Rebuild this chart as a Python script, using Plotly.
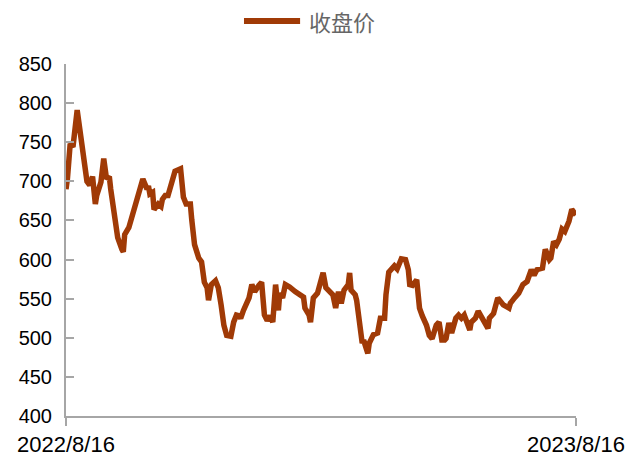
import plotly.graph_objects as go

dates = [
    "2022-08-16", "2022-08-17", "2022-08-19", "2022-08-21", "2022-08-24", "2022-08-26",
    "2022-08-28", "2022-08-29", "2022-08-31", "2022-09-02", "2022-09-04", "2022-09-06",
    "2022-09-07", "2022-09-10", "2022-09-12", "2022-09-14", "2022-09-16", "2022-09-17",
    "2022-09-20", "2022-09-22", "2022-09-25", "2022-09-26", "2022-09-27", "2022-09-30",
    "2022-10-10", "2022-10-13", "2022-10-14", "2022-10-15", "2022-10-17", "2022-10-18",
    "2022-10-21", "2022-10-23", "2022-10-24", "2022-10-26", "2022-10-28", "2022-10-30",
    "2022-11-02", "2022-11-06", "2022-11-08", "2022-11-10", "2022-11-13", "2022-11-14",
    "2022-11-16", "2022-11-19", "2022-11-21", "2022-11-23", "2022-11-25", "2022-11-26",
    "2022-11-28", "2022-12-01", "2022-12-03", "2022-12-05", "2022-12-07", "2022-12-09",
    "2022-12-12", "2022-12-14", "2022-12-16", "2022-12-18", "2022-12-19", "2022-12-21",
    "2022-12-25", "2022-12-27", "2022-12-29", "2023-01-01", "2023-01-03", "2023-01-05",
    "2023-01-07", "2023-01-09", "2023-01-11", "2023-01-13", "2023-01-15", "2023-01-16",
    "2023-01-18", "2023-01-20", "2023-01-23", "2023-01-27", "2023-01-31", "2023-02-02",
    "2023-02-03", "2023-02-06", "2023-02-07", "2023-02-09", "2023-02-12", "2023-02-14",
    "2023-02-16", "2023-02-18", "2023-02-21", "2023-02-23", "2023-02-25", "2023-02-27",
    "2023-03-01", "2023-03-03", "2023-03-06", "2023-03-07", "2023-03-08", "2023-03-11",
    "2023-03-12", "2023-03-14", "2023-03-16", "2023-03-17", "2023-03-20", "2023-03-21",
    "2023-03-24", "2023-03-27", "2023-03-29", "2023-04-01", "2023-04-02", "2023-04-04",
    "2023-04-06", "2023-04-08", "2023-04-10", "2023-04-13", "2023-04-16", "2023-04-18",
    "2023-04-19", "2023-04-21", "2023-04-24", "2023-04-26", "2023-04-28", "2023-05-01",
    "2023-05-03", "2023-05-05", "2023-05-08", "2023-05-10", "2023-05-12", "2023-05-14",
    "2023-05-15", "2023-05-17", "2023-05-19", "2023-05-22", "2023-05-24", "2023-05-26",
    "2023-05-28", "2023-06-01", "2023-06-02", "2023-06-05", "2023-06-07", "2023-06-10",
    "2023-06-14", "2023-06-15", "2023-06-18", "2023-06-21", "2023-06-25", "2023-06-29",
    "2023-06-30", "2023-07-03", "2023-07-06", "2023-07-09", "2023-07-12", "2023-07-15",
    "2023-07-17", "2023-07-19", "2023-07-23", "2023-07-25", "2023-07-28", "2023-07-29",
    "2023-07-31", "2023-08-02", "2023-08-04", "2023-08-06", "2023-08-08", "2023-08-11",
    "2023-08-13", "2023-08-16",
]

close = [
    690, 703, 748, 744, 791, 767,
    735, 726, 700, 695, 706, 671,
    682, 699, 729, 703, 706, 690,
    649, 628, 613, 610, 632, 641,
    703, 690, 694, 684, 686, 664,
    671, 668, 677, 682, 682, 697,
    713, 716, 680, 671, 671, 651,
    619, 602, 597, 571, 564, 548,
    568, 573, 564, 542, 516, 503,
    502, 520, 529, 528, 525, 535,
    551, 568, 559, 567, 571, 529,
    522, 528, 520, 568, 535, 557,
    551, 568, 565, 559, 555, 552,
    538, 529, 520, 551, 557, 568,
    583, 564, 559, 555, 538, 559,
    544, 561, 568, 583, 561, 555,
    548, 516, 493, 497, 480, 493,
    504, 506, 525, 525, 555, 584,
    587, 592, 588, 601, 600, 587,
    568, 567, 574, 538, 528, 516,
    503, 499, 516, 520, 497, 497,
    499, 519, 506, 525, 529, 525,
    529, 510, 520, 525, 534, 525,
    512, 525, 531, 551, 542, 538,
    544, 551, 557, 568, 572, 587,
    580, 587, 589, 613, 600, 602,
    623, 619, 626, 639, 636, 649,
    664, 657,
]

series_name = "收盘价"
x_tick_vals = ["2022-08-16", "2023-08-16"]
x_tick_text = ["2022/8/16", "2023/8/16"]
y_ticks = [400, 450, 500, 550, 600, 650, 700, 750, 800, 850]

LINE_COLOR = "#A03A06"

fig = go.Figure()
fig.add_trace(go.Scatter(
    x=dates, y=close, mode="lines", name=series_name,
    line=dict(color=LINE_COLOR, width=5.5), showlegend=False,
))

# legend drawn as a key line plus real text
fig.add_shape(type="line", xref="paper", yref="paper",
              x0=0.349, x1=0.459, y0=1.122, y1=1.122,
              line=dict(color=LINE_COLOR, width=6))
fig.add_annotation(xref="paper", yref="paper", x=0.472, y=1.122,
                   xanchor="left", yanchor="middle", showarrow=False,
                   text=series_name,
                   font=dict(family="Noto Sans CJK SC", size=22, color="#666666"))

fig.update_layout(
    width=638, height=457,
    margin=dict(l=58, r=70, t=56, b=49, autoexpand=False),
    paper_bgcolor="white", plot_bgcolor="white",
    showlegend=False,
    xaxis=dict(
        type="date",
        range=["2022-08-16", "2023-08-16"],
        tickvals=x_tick_vals, ticktext=x_tick_text,
        ticks="outside", ticklen=8, tickwidth=2, tickcolor="#A6A6A6",
        showline=True, linecolor="#A6A6A6", linewidth=2,
        showgrid=False, zeroline=False, automargin=False,
        tickfont=dict(family="Liberation Sans", size=22, color="#000000"),
    ),
    yaxis=dict(
        range=[400, 850], tickvals=y_ticks,
        ticks="inside", ticklen=8, tickwidth=2, tickcolor="#A6A6A6",
        ticklabelstandoff=8,
        showline=True, linecolor="#A6A6A6", linewidth=2,
        showgrid=False, zeroline=False, automargin=False,
        tickfont=dict(family="Liberation Sans", size=20, color="#000000"),
    ),
)

fig.write_html("out.html")
